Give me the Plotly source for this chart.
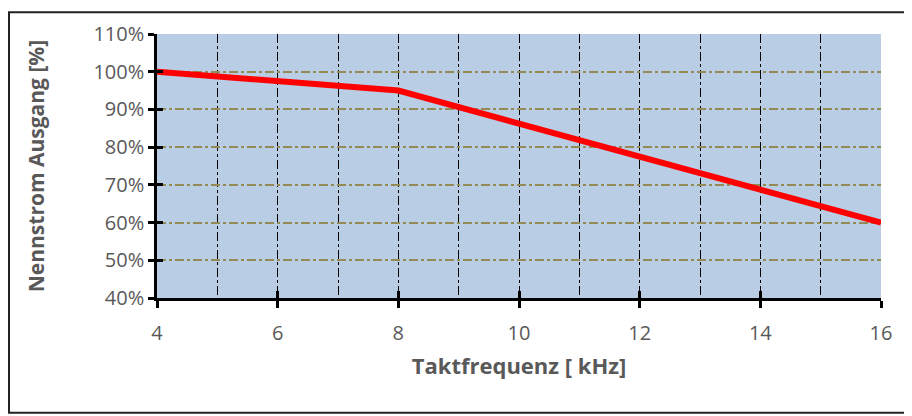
import plotly.graph_objects as go

freq_khz = [4, 8, 16]
current_pct = [1.00, 0.95, 0.60]
x_title = "Taktfrequenz [ kHz]"
y_title = "Nennstrom Ausgang [%]"

FONT = "'Open Sans', sans-serif"
GREY = "#595959"

# page body has an 8px margin; margins below compensate for it
L, T = 149, 23
PW, PH = 724, 267
W, H = 912, 416

def px_x(p):
    return (p - L) / PW

def px_y(p):
    return (T + PH - p) / PH

fig = go.Figure()
fig.add_trace(go.Scatter(x=freq_khz, y=current_pct, mode="lines",
                         line=dict(color="#FF0000", width=6), showlegend=False,
                         hoverinfo="skip"))
fig.add_trace(go.Scatter(x=freq_khz, y=current_pct, mode="lines",
                         line=dict(color="rgba(0,0,0,0)", width=0), showlegend=False,
                         xaxis="x2", yaxis="y2", hoverinfo="skip"))

fig.update_layout(
    width=W, height=H,
    margin=dict(l=L, r=W - L - PW, t=T, b=H - T - PH),
    paper_bgcolor="white",
    plot_bgcolor="#B9CDE5",
    font=dict(family=FONT, color=GREY, size=20),
    xaxis=dict(
        range=[4, 16], dtick=2, tick0=4,
        showline=True, linecolor="black", linewidth=2.5,
        ticks="outside", ticklen=7, tickwidth=2.5, tickcolor="black",
        ticklabelstandoff=8,
        showgrid=True, gridcolor="black", gridwidth=1, griddash="dashdot",
        minor=dict(dtick=1, showgrid=True, gridcolor="black", gridwidth=1, griddash="dashdot"),
        zeroline=False,
        tickfont=dict(size=20, color=GREY, family=FONT),
        title=dict(text=x_title, font=dict(size=22, color=GREY, family=FONT, weight="bold"), standoff=14),
        fixedrange=True,
    ),
    yaxis=dict(
        range=[0.40, 1.10], dtick=0.10, tick0=0.40, tickformat=".0%",
        showline=True, linecolor="black", linewidth=2.5,
        ticks="outside", ticklen=6, tickwidth=2.5, tickcolor="black",
        showgrid=True, gridcolor="#948A54", gridwidth=2, griddash="dashdot",
        zeroline=False,
        tickfont=dict(size=20, color=GREY, family=FONT),
        title=dict(text=y_title, font=dict(size=21, color=GREY, family=FONT, weight="bold"), standoff=44),
        fixedrange=True,
    ),
    xaxis2=dict(
        overlaying="x", range=[4, 16], dtick=2, tick0=4, showticklabels=False,
        ticks="inside", ticklen=7, tickwidth=2.5, tickcolor="black",
        showgrid=False, zeroline=False, showline=False, fixedrange=True,
    ),
    yaxis2=dict(
        overlaying="y", range=[0.40, 1.10], dtick=0.10, tick0=0.40, showticklabels=False,
        ticks="inside", ticklen=6, tickwidth=2.5, tickcolor="black",
        showgrid=False, zeroline=False, showline=False, fixedrange=True,
    ),
    shapes=[dict(type="rect", xref="paper", yref="paper",
                 x0=px_x(1), x1=px_x(W + 10), y0=px_y(H - 10), y1=px_y(1),
                 line=dict(color="#222222", width=2), fillcolor="rgba(0,0,0,0)",
                 layer="below")],
)

fig.write_html("out.html")
